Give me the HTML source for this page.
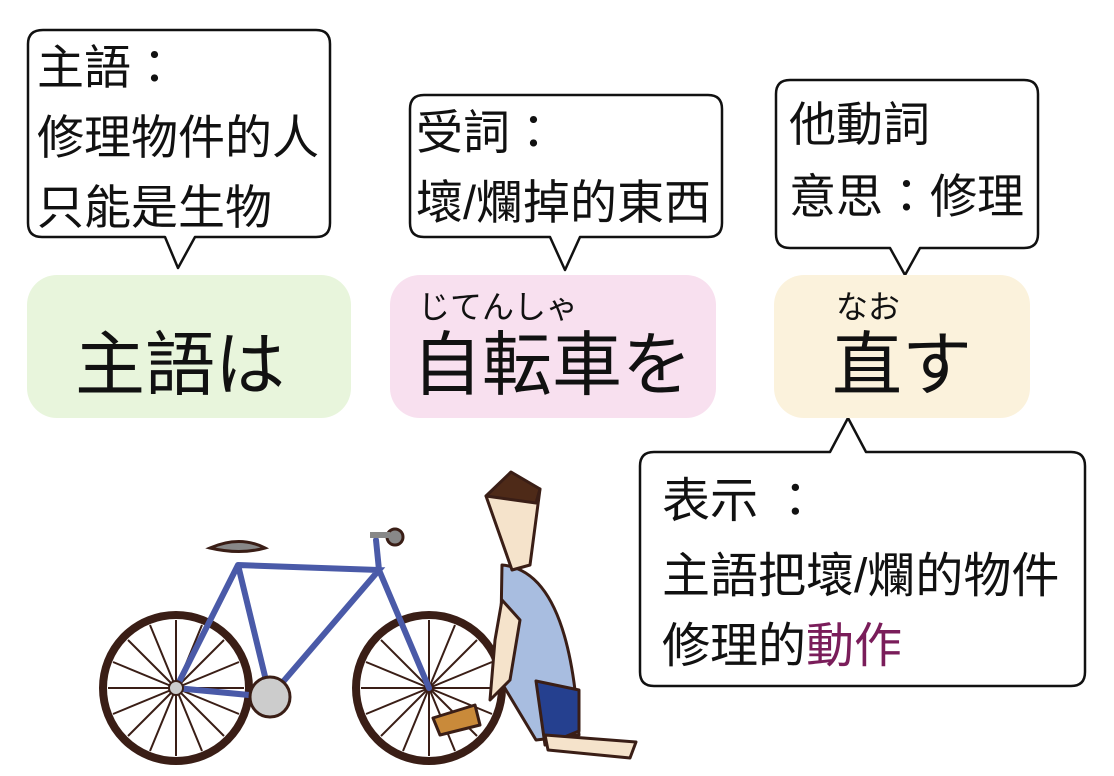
<!DOCTYPE html>
<html><head><meta charset="utf-8"><style>
body{margin:0;width:1114px;height:776px;background:#fff;position:relative;overflow:hidden;font-family:"Liberation Sans","Noto Sans CJK TC",sans-serif;}
.t{position:absolute;white-space:nowrap;color:#111;}
.c{font-size:47px;line-height:70px;}
.d{font-size:48px;line-height:72px;}
</style></head><body>
<svg width="1114" height="776" style="position:absolute;left:0;top:0">
<g fill="#fff" stroke="#111" stroke-width="2.5" stroke-linejoin="round">
<path d="M43 30 H316 Q330 30 330 44 V223 Q330 237 316 237 H195 L178 268 L165 237 H42 Q28 237 28 223 V44 Q28 30 43 30Z"/>
<path d="M424 95 H708 Q722 95 722 109 V223 Q722 237 708 237 H580 L565 270 L550 237 H424 Q410 237 410 223 V109 Q410 95 424 95Z"/>
<path d="M790 80 H1024 Q1038 80 1038 94 V234 Q1038 248 1024 248 H920 L905 275 L890 248 H790 Q776 248 776 234 V94 Q776 80 790 80Z"/>
<path d="M654 452 H830 L848 418 L866 452 H1071 Q1085 452 1085 466 V672 Q1085 686 1071 686 H654 Q640 686 640 672 V466 Q640 452 654 452Z"/>
</g>
<rect x="27" y="275" width="324" height="143" rx="30" fill="#e8f5dc"/>
<rect x="390" y="275" width="326" height="143" rx="30" fill="#f8e0ef"/>
<rect x="774" y="275" width="256" height="143" rx="30" fill="#fbf2dc"/>
<g stroke="#3a1e16" fill="none">
<circle cx="176" cy="688" r="73" stroke-width="8"/>
<circle cx="429" cy="688" r="73" stroke-width="8"/>
<g stroke-width="2">
<path d="M176 620V756M108 688H244M128 640L224 736M224 640L128 736M150 625L202 751M202 625L150 751M113 662L239 714M239 662L113 714"/>
<path d="M429 620V756M361 688H497M381 640L477 736M477 640L381 736M403 625L455 751M455 625L403 751M366 662L492 714M492 662L366 714"/>
</g>
<g stroke="#4a5aa8" stroke-width="6" stroke-linecap="round">
<path d="M238 565L270 697L379 570L238 565M238 565L176 688L270 697M379 570L429 688M379 570L376 540"/>
</g>
</g>
<path d="M210 548Q240 535 265 548Q240 555 210 548Z" fill="#888" stroke="#3a1e16" stroke-width="3"/>
<circle cx="270" cy="697" r="20" fill="#ccc" stroke="#3a1e16" stroke-width="3"/>
<circle cx="176" cy="688" r="7" fill="#ccc" stroke="#3a1e16" stroke-width="2"/>
<circle cx="395" cy="537" r="8" fill="#888" stroke="#3a1e16" stroke-width="3"/>
<path d="M370 535H390" stroke="#888" stroke-width="6"/>
<g stroke="#3a1e16" stroke-width="3" stroke-linejoin="round">
<path d="M502 565Q560 570 575 690L579 735L536 740L500 680Z" fill="#a8bde0"/>
<path d="M536 681L579 690V731L545 745Z" fill="#25408f"/>
<path d="M545 735L636 742L630 758L548 750Z" fill="#f5e3cb"/>
<path d="M486 496L512 570L530 565L540 489Z" fill="#f5e3cb"/>
<path d="M486 496L511 472L540 489L536 503Z" fill="#4e2a18"/>
<path d="M502 600L520 620L510 680L490 700L495 640Z" fill="#f5e3cb"/>
<path d="M433 718L475 705L480 725L440 735Z" fill="#c98a3a"/>
</g>
</svg>
<div class="t c" style="left:37px;top:33px">主語：</div>
<div class="t c" style="left:37px;top:103px">修理物件的人</div>
<div class="t c" style="left:37px;top:173px">只能是生物</div>
<div class="t c" style="left:416px;top:98px">受詞：</div>
<div class="t c" style="left:416px;top:168px">壞/爛掉的東西</div>
<div class="t c" style="left:789px;top:90px">他動詞</div>
<div class="t c" style="left:789px;top:162px">意思：修理</div>
<div class="t d" style="left:662px;top:466px">表示 ：</div>
<div class="t d" style="left:662px;top:541px">主語把壞/爛的物件</div>
<div class="t d" style="left:662px;top:611px">修理的<span style="color:#7a1d5a">動作</span></div>
<div class="t" style="left:75px;top:325px;font-size:70px;line-height:80px">主語は</div>
<div class="t" style="left:418px;top:290px;font-size:32px;line-height:34px">じてんしゃ</div>
<div class="t" style="left:412px;top:325px;font-size:70px;line-height:80px">自転車を</div>
<div class="t" style="left:836px;top:290px;font-size:32px;line-height:34px">なお</div>
<div class="t" style="left:832px;top:325px;font-size:70px;line-height:80px">直す</div>
</body></html>
